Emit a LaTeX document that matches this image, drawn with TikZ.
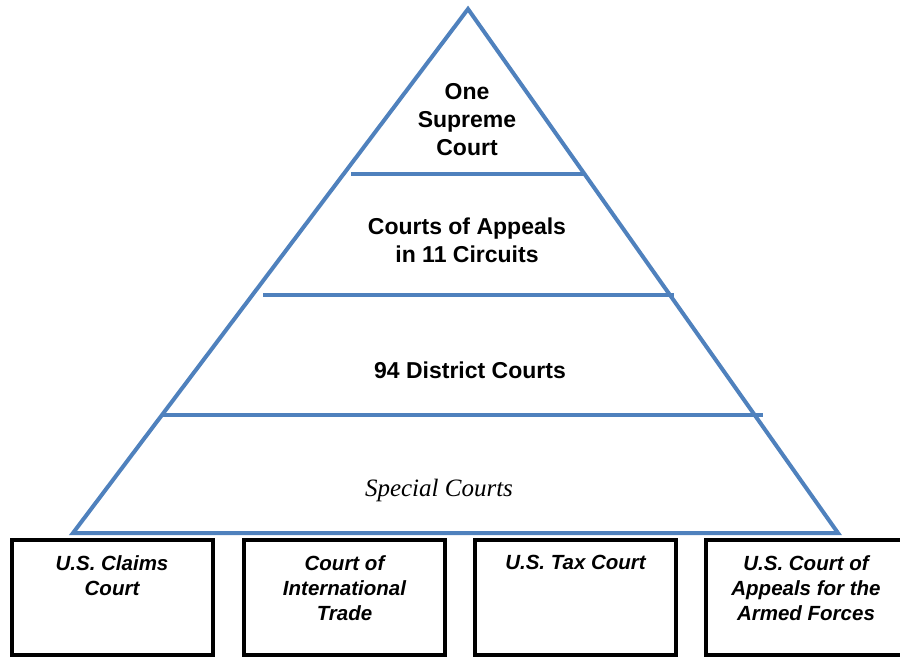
\documentclass[tikz,border=0pt]{standalone}
\usepackage{fontspec}
\setmainfont{Liberation Sans}
\newfontfamily\specialfont{Liberation Serif}
\usetikzlibrary{positioning}
\definecolor{pyrblue}{RGB}{79,129,189}

\tikzset{
  tier/.style={draw=pyrblue, line width=4pt},
  tiertext/.style={align=center, font=\fontsize{23}{28}\selectfont\bfseries},
  courtbox/.style={draw=black, line width=4pt, minimum width=201pt, minimum height=115pt, inner sep=0pt},
  boxtext/.style={align=center, anchor=north, inner sep=0pt, font=\fontsize{20.5}{25}\selectfont\bfseries\itshape}
}

\begin{document}
\begin{tikzpicture}[x=1pt,y=-1pt]
\useasboundingbox (0,0) rectangle (900,659);
% pyramid corners
\coordinate (apex) at (468,9);
\coordinate (baseL) at (73,533);
\coordinate (baseR) at (838,533);
% tier lines
\coordinate (t1L) at (351,174);
\coordinate (t1R) at (585,174);
\coordinate (t2L) at (263,295);
\coordinate (t2R) at (674,295);
\coordinate (t3L) at (163,415);
\coordinate (t3R) at (763,415);
\draw[tier, line join=miter] (baseL) -- (apex) -- (baseR) -- cycle;
\draw[tier] (t1L) -- (t1R);
\draw[tier] (t2L) -- (t2R);
\draw[tier] (t3L) -- (t3R);
% tier labels
\node[tiertext] (supreme) at (467,120) {One\\Supreme\\Court};
\node[tiertext] (appeals) at (467,240) {Courts of Appeals\\in 11 Circuits};
\node[tiertext] (district) at (470,370) {94 District Courts};
\node[font=\fontsize{25}{28}\selectfont\specialfont\itshape] (special) at (439,490) {Special Courts};
% special courts
\node[courtbox] (claims) at (112,597.5) {};
\node[courtbox] (trade) at (344.5,597.5) {};
\node[courtbox] (tax) at (575.5,597.5) {};
\node[courtbox] (armed) at (806,597.5) {};
\node[boxtext, below=17pt of claims.north] (claimstext) {U.S. Claims\\Court};
\node[boxtext, below=17pt of trade.north] (tradetext) {Court of\\International\\Trade};
\node[boxtext, below=17pt of tax.north] (taxtext) {U.S. Tax Court};
\node[boxtext, below=17pt of armed.north] (armedtext) {U.S. Court of\\Appeals for the\\Armed Forces};
\end{tikzpicture}
\end{document}
